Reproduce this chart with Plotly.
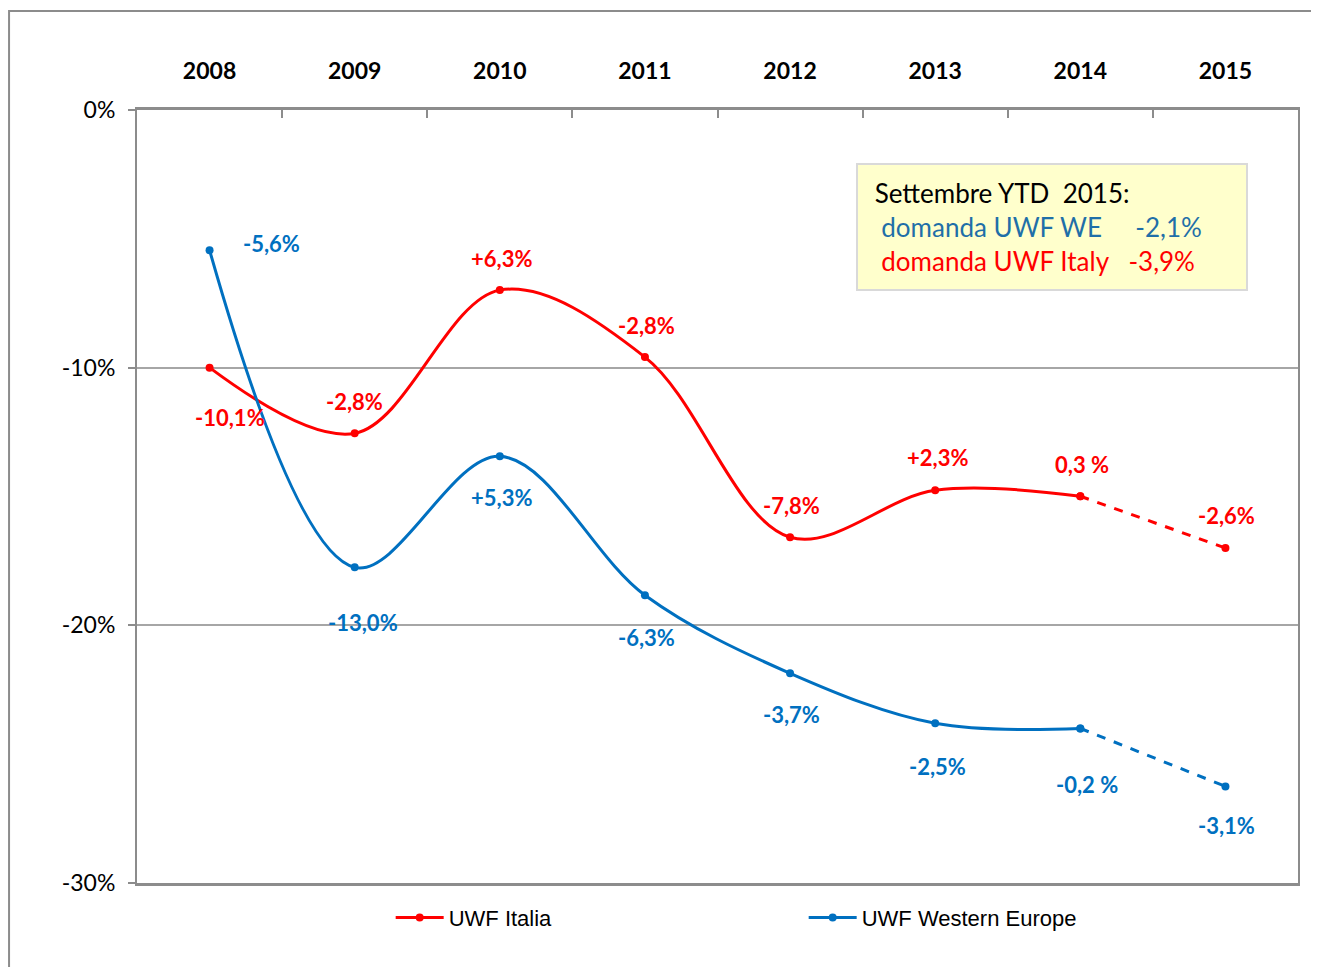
import plotly.graph_objects as go

years = ["2008", "2009", "2010", "2011", "2012", "2013", "2014", "2015"]
italia = [-10.0, -12.55, -6.99, -9.59, -16.58, -14.76, -14.99, -17.0]
western = [-5.44, -17.75, -13.44, -18.83, -21.86, -23.8, -24.0, -26.25]
italia_labels = ["-10,1%", "-2,8%", "+6,3%", "-2,8%", "-7,8%", "+2,3%", "0,3 %", "-2,6%"]
western_labels = ["-5,6%", "-13,0%", "+5,3%", "-6,3%", "-3,7%", "-2,5%", "-0,2 %", "-3,1%"]
y_ticks = [0, -10, -20, -30]
y_tick_text = ["0%", "-10%", "-20%", "-30%"]

RED = "#FF0000"
BLUE = "#0070C0"
LABEL_FONT = "Lato"

fig = go.Figure()

# solid smoothed parts (2008-2014)
fig.add_trace(go.Scatter(x=years[:7], y=italia[:7], mode="lines+markers", name="UWF Italia",
                         line=dict(color=RED, width=3, shape="spline", smoothing=1.0),
                         marker=dict(color=RED, size=8)))
fig.add_trace(go.Scatter(x=years[:7], y=western[:7], mode="lines+markers", name="UWF Western Europe",
                         line=dict(color=BLUE, width=3, shape="spline", smoothing=1.0),
                         marker=dict(color=BLUE, size=8)))
# dashed parts (2014-2015)
fig.add_trace(go.Scatter(x=years[6:], y=italia[6:], mode="lines+markers", showlegend=False,
                         line=dict(color=RED, width=3, dash="dash"),
                         marker=dict(color=RED, size=8)))
fig.add_trace(go.Scatter(x=years[6:], y=western[6:], mode="lines+markers", showlegend=False,
                         line=dict(color=BLUE, width=3, dash="dash"),
                         marker=dict(color=BLUE, size=8)))

# label offsets (pixels) relative to the points
italia_shift = [(20, -50), (0, 32), (2, 32), (2, 32), (1, 32), (2, 33), (2, 32), (1, 33)]
western_shift = [(62, 7), (8, -55), (2, -41), (2, -42), (1, -41), (2, -43), (7, -56), (1, -39)]

annotations = []
for i, yr in enumerate(years):
    dx, dy = italia_shift[i]
    annotations.append(dict(x=i, y=italia[i], text=italia_labels[i], showarrow=False,
                            xshift=dx, yshift=dy,
                            font=dict(family=LABEL_FONT, size=22, color=RED, weight="bold")))
    dx, dy = western_shift[i]
    annotations.append(dict(x=i, y=western[i], text=western_labels[i], showarrow=False,
                            xshift=dx, yshift=dy,
                            font=dict(family=LABEL_FONT, size=22, color=BLUE, weight="bold")))

annotations.append(dict(
    xref="paper", yref="paper", x=0.6193, y=0.9314, xanchor="left", yanchor="top",
    showarrow=False, align="left", valign="middle",
    width=368, height=104,
    text=(" Settembre YTD  2015:<br>"
          "<span style='color:#1F6FA8'>  domanda UWF WE     -2,1%</span><br>"
          "<span style='color:#FF0000'>  domanda UWF Italy   -3,9%</span>"),
    font=dict(family=LABEL_FONT, size=26, color="black"),
    bgcolor="#FFFFCC", bordercolor="#D9D9D9", borderwidth=2, borderpad=10,
))

fig.update_layout(
    width=1319, height=967,
    paper_bgcolor="white", plot_bgcolor="white",
    margin=dict(l=129, r=29, t=102, b=92),
    annotations=annotations,
    showlegend=True,
    legend=dict(orientation="h", x=0.2185, y=-0.0178, xanchor="left", yanchor="top",
                entrywidth=350, entrywidthmode="pixels", itemwidth=48,
                font=dict(family="Liberation Sans", size=22, color="black")),
    shapes=[dict(type="rect", xref="paper", yref="paper",
                 x0=-0.1102, x1=1.03, y0=-0.15, y1=1.128,
                 line=dict(color="#8C8C8C", width=2), layer="below")],
)

fig.update_xaxes(
    type="category", side="top", showgrid=False, range=[-0.5, 7.5], autorange=False,
    showline=True, linecolor="#8C8C8C", linewidth=3, mirror=True,
    ticks="inside", tickson="boundaries", ticklen=8, tickcolor="#8C8C8C", tickwidth=2,
    ticklabelstandoff=19,
    tickfont=dict(family=LABEL_FONT, size=23, color="black", weight="bold"),
)
fig.update_yaxes(
    range=[-30, 0], tickvals=y_ticks, ticktext=y_tick_text,
    showgrid=True, gridcolor="#A6A6A6", gridwidth=1.5,
    showline=True, linecolor="#8C8C8C", linewidth=2, mirror=True,
    ticks="outside", ticklen=7, tickcolor="#8C8C8C", tickwidth=2,
    ticklabelstandoff=8,
    zeroline=False,
    tickfont=dict(family=LABEL_FONT, size=23, color="black"),
)

fig.write_html("out.html")
